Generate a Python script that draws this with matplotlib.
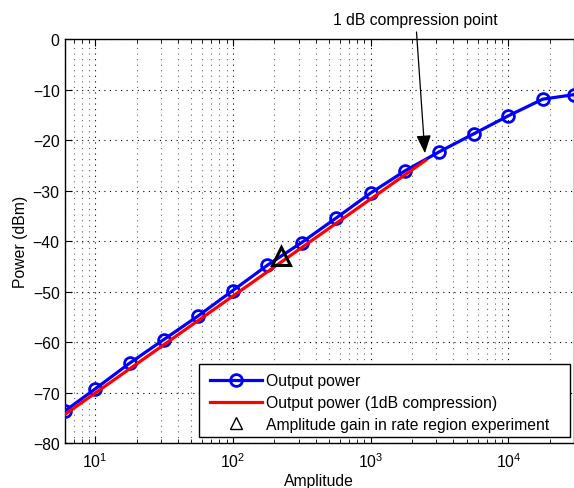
import matplotlib
matplotlib.use("Agg")
import matplotlib.pyplot as plt
from matplotlib.patches import Rectangle
from matplotlib.ticker import LogLocator, NullFormatter, MultipleLocator

plt.rcParams['font.family'] = ['Liberation Sans', 'DejaVu Sans']
plt.rcParams['font.size'] = 11.3

# amplitude sweep (quarter decades) and measured output power
amplitude = [6, 10, 17.8, 31.6, 56.2, 100, 178, 316, 562, 1000,
             1778, 3162, 5623, 10000, 17783, 30000]
power_dbm = [-73.7, -69.3, -64.2, -59.5, -54.8, -49.8, -44.8, -40.3, -35.45,
             -30.5, -26.1, -22.3, -18.75, -15.2, -11.9, -11.0]

# 1 dB compression reference line
comp_amp = [6, 2512]
comp_dbm = [-74.4, -24.0]

# operating point used in rate region experiment
exp_amp = [225]
exp_dbm = [-42.9]

fig = plt.figure(figsize=(5.74, 4.89), dpi=100)
ax = fig.add_axes([0.1124, 0.092, 0.8876, 0.826])

ax.plot(amplitude, power_dbm, '-o', color='#0000ff', lw=2.3, ms=8.5,
        mfc='none', mew=2, label='Output power', zorder=3)
ax.plot(comp_amp, comp_dbm, '-', color='#ff0000', lw=2.3,
        label='Output power (1dB compression)', zorder=4)
ax.plot(exp_amp, exp_dbm, '^', color='black', ms=13, mfc='none', mew=2.2,
        label='Amplitude gain in rate region experiment', zorder=5)

ax.set_xscale('log')
ax.set_xlim(6, 30000)
ax.set_ylim(-80, 0)
ax.yaxis.set_major_locator(MultipleLocator(10))
ax.xaxis.set_major_locator(LogLocator(base=10, numticks=10))
ax.xaxis.set_minor_locator(LogLocator(base=10, subs=range(2, 10), numticks=50))
ax.xaxis.set_minor_formatter(NullFormatter())

ax.grid(True, which='major', ls=(0, (1, 4)), color='black', lw=0.8)
ax.grid(True, which='minor', axis='x', ls=(0, (1, 4)), color='#666666', lw=0.8)
ax.set_axisbelow(True)

ax.tick_params(which='both', direction='in', top=True, right=False)
ax.tick_params(which='major', length=5, labelsize=11.3)
ax.tick_params(axis='x', which='major', pad=6)
ax.tick_params(which='minor', length=3)
for s in ax.spines.values():
    s.set_linewidth(1.0)

ax.set_xlabel('Amplitude', labelpad=2)
ax.set_ylabel('Power (dBm)', labelpad=3)

# legend box drawn like the MATLAB one (wider padding on the right)
ax.add_patch(Rectangle((0.2646, 0.0156), 0.7276, 0.18, transform=ax.transAxes,
                       facecolor='white', edgecolor='black', lw=1.0, zorder=6))
leg = ax.legend(loc='upper left', bbox_to_anchor=(0.2856, 0.1723),
                borderaxespad=0, borderpad=0, frameon=False,
                handlelength=3.3, handletextpad=0.25, labelspacing=0.43)
leg.set_zorder(7)
leg.legend_handles[2].set_markersize(8)
leg.legend_handles[2].set_markeredgewidth(1)

fig.text(415.7 / 574, 1 - 20.7 / 489, '1 dB compression point',
         ha='center', va='center', fontsize=11.3)
ax.annotate('', xy=(2480, -22.6), xycoords='data',
            xytext=(416.5 / 574, 1 - 33 / 489), textcoords='figure fraction',
            arrowprops=dict(arrowstyle='-|>,head_length=1.1,head_width=0.45',
                            mutation_scale=10, color='black', lw=0.9,
                            shrinkA=0, shrinkB=0),
            annotation_clip=False)

fig.savefig('out.png', dpi=100)
